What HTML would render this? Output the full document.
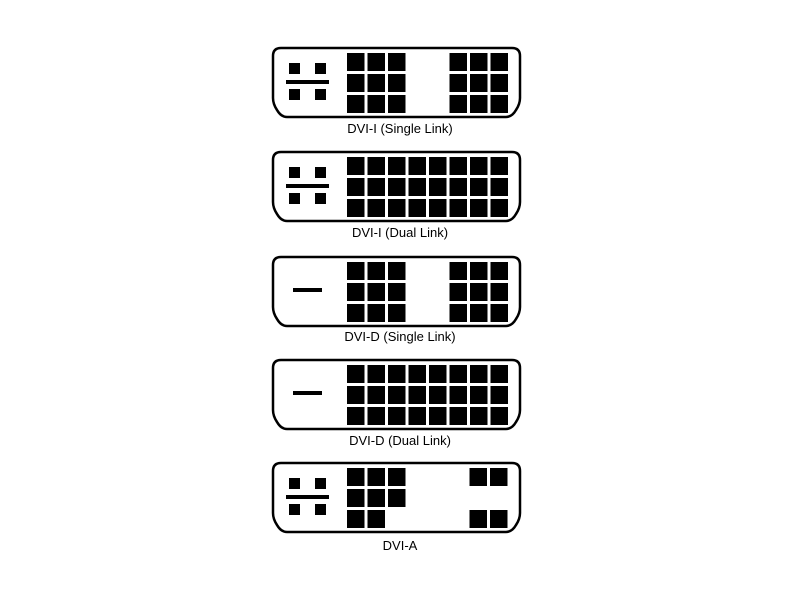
<!DOCTYPE html>
<html><head><meta charset="utf-8"><style>
html,body{margin:0;padding:0;background:#fff;width:800px;height:600px;overflow:hidden}
text{font-family:"Liberation Sans",Arial,sans-serif;font-size:13px;fill:#000}
</style></head><body>
<svg width="800" height="600" viewBox="0 0 800 600" xmlns="http://www.w3.org/2000/svg">
<defs>
<path id="sh" d="M8,0 H239 Q247,0 247,8 V50 Q247,56 243,62 Q239,69 233,69 H14 Q8,69 4,62 Q0,56 0,50 V8 Q0,0 8,0 Z" fill="#fff" stroke="#000" stroke-width="2.5"/>
<g id="ana">
<rect x="16" y="15" width="11" height="11"/><rect x="42" y="15" width="11" height="11"/>
<rect x="16" y="41" width="11" height="11"/><rect x="42" y="41" width="11" height="11"/>
<rect x="13" y="32" width="43" height="4"/>
</g>
<g id="c3">
<rect x="74" y="5" width="17.5" height="18"/><rect x="94.5" y="5" width="17.5" height="18"/><rect x="115" y="5" width="17.5" height="18"/>
<rect x="74" y="26" width="17.5" height="18"/><rect x="94.5" y="26" width="17.5" height="18"/><rect x="115" y="26" width="17.5" height="18"/>
<rect x="74" y="47" width="17.5" height="18"/><rect x="94.5" y="47" width="17.5" height="18"/><rect x="115" y="47" width="17.5" height="18"/>
</g>
<g id="c8">
<use href="#c3"/><use href="#c3" x="61.5"/><use href="#c3" x="102.5"/>
</g>
</defs>

<g transform="translate(273,48)">
<use href="#sh"/><use href="#ana"/><use href="#c3"/><use href="#c3" x="102.5"/>
<text x="127" y="85" text-anchor="middle">DVI-I (Single Link)</text>
</g>

<g transform="translate(273,152)">
<use href="#sh"/><use href="#ana"/><use href="#c8"/>
<text x="127" y="85" text-anchor="middle">DVI-I (Dual Link)</text>
</g>

<g transform="translate(273,257)">
<use href="#sh"/><rect x="20" y="31" width="29" height="4"/><use href="#c3"/><use href="#c3" x="102.5"/>
<text x="127" y="84" text-anchor="middle">DVI-D (Single Link)</text>
</g>

<g transform="translate(273,360)">
<use href="#sh"/><rect x="20" y="31" width="29" height="4"/><use href="#c8"/>
<text x="127" y="85" text-anchor="middle">DVI-D (Dual Link)</text>
</g>

<g transform="translate(273,463)">
<use href="#sh"/><use href="#ana"/>
<rect x="74" y="5" width="17.5" height="18"/><rect x="94.5" y="5" width="17.5" height="18"/><rect x="115" y="5" width="17.5" height="18"/>
<rect x="74" y="26" width="17.5" height="18"/><rect x="94.5" y="26" width="17.5" height="18"/><rect x="115" y="26" width="17.5" height="18"/>
<rect x="74" y="47" width="17.5" height="18"/><rect x="94.5" y="47" width="17.5" height="18"/>
<rect x="196.5" y="5" width="17.5" height="18"/><rect x="217" y="5" width="17.5" height="18"/>
<rect x="196.5" y="47" width="17.5" height="18"/><rect x="217" y="47" width="17.5" height="18"/>
<text x="127" y="87" text-anchor="middle">DVI-A</text>
</g>
</svg>
</body></html>
